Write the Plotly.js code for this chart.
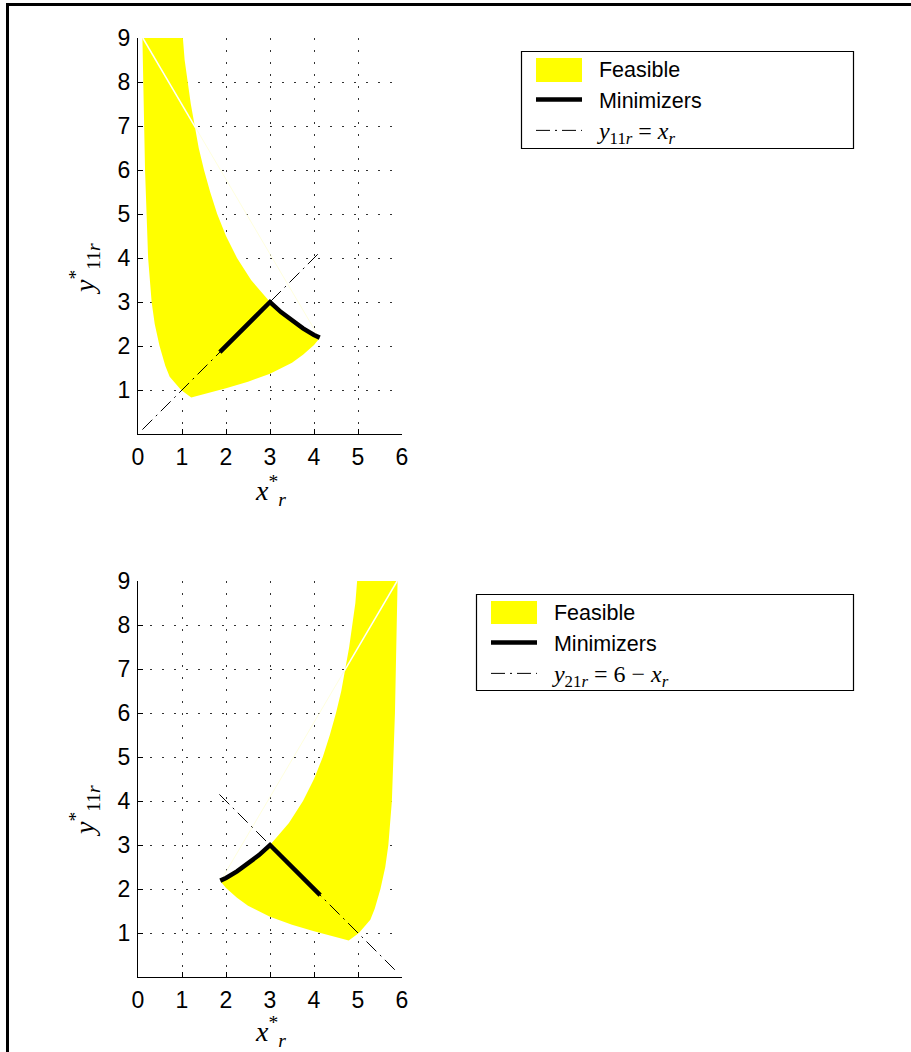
<!DOCTYPE html>
<html><head><meta charset="utf-8">
<script src="https://cdn.plot.ly/plotly-3.0.1.min.js"></script>
<style>html,body{margin:0;padding:0;background:#fff}#chart{width:911px;height:1052px}</style>
</head><body><div id="chart"></div>
<script>
// ---------- tick labels ----------
const xTickVals = [0, 1, 2, 3, 4, 5, 6];
const yTickVals = [1, 2, 3, 4, 5, 6, 7, 8, 9];

// ---------- top panel (y11r = xr) ----------
const feasTopX = [0.10, 1.02, 1.06, 1.13, 1.20, 1.29, 1.38, 1.50, 1.64, 1.80, 2.00, 2.25, 2.57, 3.00, 3.25, 3.50, 3.75, 4.00, 4.13,
                  4.00, 3.75, 3.50, 3.00, 2.50, 2.00, 1.60, 1.21,
                  0.98, 0.85, 0.72, 0.62, 0.49, 0.38, 0.31, 0.23, 0.19, 0.16, 0.14, 0.12, 0.10];
const feasTopY = [9.00, 9.00, 8.50, 8.00, 7.50, 7.00, 6.50, 6.00, 5.50, 5.00, 4.50, 4.00, 3.50, 3.00, 2.77, 2.57, 2.40, 2.25, 2.18,
                  2.02, 1.80, 1.62, 1.37, 1.19, 1.04, 0.93, 0.83,
                  1.00, 1.15, 1.30, 1.55, 2.00, 2.50, 3.00, 4.00, 5.00, 6.00, 7.00, 8.00, 9.00];
const minTopX = [1.86, 3.00, 3.25, 3.50, 3.75, 4.00, 4.13];
const minTopY = [1.86, 3.00, 2.77, 2.57, 2.40, 2.25, 2.19];
const diagTopX = [0.10, 4.15];
const diagTopY = [0.10, 4.15];
const chordInTopX = [0.11, 1.31];
const chordInTopY = [9.00, 6.96];
const chordOutTopX = [1.31, 4.13];
const chordOutTopY = [6.96, 2.17];

// ---------- bottom panel (y21r = 6 - xr) ----------
const feasBotX = [5.90, 4.98, 4.94, 4.87, 4.80, 4.71, 4.62, 4.50, 4.36, 4.20, 4.00, 3.75, 3.43, 3.00, 2.75, 2.50, 2.25, 2.00, 1.87,
                  2.00, 2.25, 2.50, 3.00, 3.50, 4.00, 4.40, 4.79,
                  5.02, 5.15, 5.28, 5.38, 5.51, 5.62, 5.69, 5.77, 5.81, 5.84, 5.86, 5.88, 5.90];
const feasBotY = [9.00, 9.00, 8.50, 8.00, 7.50, 7.00, 6.50, 6.00, 5.50, 5.00, 4.50, 4.00, 3.50, 3.00, 2.77, 2.57, 2.40, 2.25, 2.18,
                  2.02, 1.80, 1.62, 1.37, 1.19, 1.04, 0.93, 0.83,
                  1.00, 1.15, 1.30, 1.55, 2.00, 2.50, 3.00, 4.00, 5.00, 6.00, 7.00, 8.00, 9.00];
const minBotX = [1.87, 2.00, 2.25, 2.50, 2.75, 3.00, 4.14];
const minBotY = [2.19, 2.25, 2.40, 2.57, 2.77, 3.00, 1.86];
const diagBotX = [1.85, 5.90];
const diagBotY = [4.15, 0.10];
const chordInBotX = [5.89, 4.69];
const chordInBotY = [9.00, 6.96];
const chordOutBotX = [4.69, 1.87];
const chordOutBotY = [6.96, 2.17];

const YELLOW = '#ffff00';
const DASHDOT = '14px,5px,2px,5px';
const serif = 'Liberation Serif, DejaVu Serif, serif';
const sans = 'Liberation Sans, Arial, sans-serif';

function panel(xa, ya, leg, fx, fy, cix, ciy, cox, coy, dx, dy, mx, my, diagName) {
  return [
    {x: fx, y: fy, xaxis: xa, yaxis: ya, mode: 'lines', fill: 'toself', fillcolor: YELLOW,
     line: {width: 0, color: YELLOW}, showlegend: false, hoverinfo: 'skip'},
    {x: cix, y: ciy, xaxis: xa, yaxis: ya, mode: 'lines', line: {color: '#ffffff', width: 1.5},
     showlegend: false, hoverinfo: 'skip'},
    {x: cox, y: coy, xaxis: xa, yaxis: ya, mode: 'lines', line: {color: 'rgb(255,255,222)', width: 1},
     showlegend: false, hoverinfo: 'skip'},
    {x: [null], y: [null], xaxis: xa, yaxis: ya, mode: 'lines', name: '\u00a0\u00a0Feasible', legend: leg, legendrank: 1,
     line: {color: YELLOW, width: 10}},
    {x: dx, y: dy, xaxis: xa, yaxis: ya, mode: 'lines', name: diagName, legend: leg, legendrank: 3,
     line: {color: '#000', width: 1, dash: DASHDOT}},
    {x: mx, y: my, xaxis: xa, yaxis: ya, mode: 'lines', name: '\u00a0\u00a0Minimizers', legend: leg, legendrank: 2,
     line: {color: '#000', width: 4.5}}
  ];
}

const diag1 = '\u00a0\u00a0<span style="font-family:Liberation Serif;font-size:24px"><i>y</i><sub>11<i>r</i></sub> = <i>x</i><sub><i>r</i></sub></span>';
const diag2 = '\u00a0\u00a0<span style="font-family:Liberation Serif;font-size:24px"><i>y</i><sub>21<i>r</i></sub> = 6 − <i>x</i><sub><i>r</i></sub></span>';

const data = [].concat(
  panel('x', 'y', 'legend', feasTopX, feasTopY, chordInTopX, chordInTopY, chordOutTopX, chordOutTopY, diagTopX, diagTopY, minTopX, minTopY, diag1),
  panel('x2', 'y2', 'legend2', feasBotX, feasBotY, chordInBotX, chordInBotY, chordOutBotX, chordOutBotY, diagBotX, diagBotY, minBotX, minBotY, diag2)
);

const W = 911, H = 1052;
function xAxis(anchor) {
  return {domain: [138 / W, 402 / W], anchor: anchor, range: [0, 6], tickvals: xTickVals, ticktext: xTickVals.map(String),
    showline: true, linecolor: '#000', linewidth: 1, ticks: 'inside', ticklen: 5, tickcolor: '#000', tickwidth: 1,
    showgrid: true, gridcolor: '#333', gridwidth: 1, griddash: '1.5px,10.5px', zeroline: false, ticklabelstandoff: 2,
    tickfont: {family: sans, size: 23, color: '#000'}, fixedrange: true};
}
function yAxis(anchor, top, bottom) {
  return {domain: [1 - bottom / H, 1 - top / H], anchor: anchor, range: [0, 9], tickvals: yTickVals, ticktext: yTickVals.map(String),
    showline: true, linecolor: '#000', linewidth: 1, ticks: 'inside', ticklen: 5, tickcolor: '#000', tickwidth: 1,
    showgrid: true, gridcolor: '#333', gridwidth: 1, griddash: '1.5px,10.5px', zeroline: false, ticklabelstandoff: 2,
    tickfont: {family: sans, size: 23, color: '#000'}, fixedrange: true};
}
function legendBox(left, top) {
  return {x: left / W, y: 1 - top / H, xanchor: 'left', yanchor: 'top', bgcolor: 'rgba(0,0,0,0)', borderwidth: 0,
    font: {family: sans, size: 21.5, color: '#000'}, itemwidth: 46, traceorder: 'normal', itemclick: false, itemdoubleclick: false};
}
const xTitle = '<i>x</i><sup>*</sup><sub><i>r</i></sub>';
const yTitle = '<i>y</i><sup>*</sup><sub>11<i>r</i></sub>';
function ann(text, px, py, angle) {
  return {text: text, xref: 'paper', yref: 'paper', x: px / W, y: 1 - py / H, xanchor: 'center', yanchor: 'middle',
    showarrow: false, textangle: angle, borderpad: 0, font: {family: serif, size: 28, color: '#000'}};
}
function pxRect(x0, y0, x1, y1, fill, lineW) {
  return {type: 'rect', xref: 'paper', yref: 'paper', layer: 'above', x0: x0 / W, x1: x1 / W, y0: 1 - y1 / H, y1: 1 - y0 / H,
    fillcolor: fill, line: {color: '#000', width: lineW}};
}

const layout = {
  width: W, height: H, margin: {l: 0, r: 0, t: 0, b: 0}, paper_bgcolor: '#fff', plot_bgcolor: '#fff',
  xaxis: xAxis('y'), yaxis: yAxis('x', 38, 434),
  xaxis2: xAxis('y2'), yaxis2: yAxis('x2', 581, 977),
  legend: legendBox(531, 48), legend2: legendBox(486, 591),
  annotations: [ann(xTitle, 270, 490, 0), ann(yTitle, 84, 269, -90), ann(xTitle, 270, 1031.5, 0), ann(yTitle, 84, 811, -90)],
  shapes: [
    {type: 'line', xref: 'paper', yref: 'paper', x0: 7.5 / W, x1: 7.5 / W, y0: 0, y1: 1 - 4.5 / H, line: {color: '#000', width: 3}},
    {type: 'line', xref: 'paper', yref: 'paper', x0: 6 / W, x1: 1, y0: 1 - 4.5 / H, y1: 1 - 4.5 / H, line: {color: '#000', width: 3}},
    pxRect(521.5, 51.5, 853.5, 148.5, '#ffffff', 1.2),
    pxRect(536, 58, 582, 82, YELLOW, 0),
    pxRect(476.5, 594.5, 853.5, 690.5, '#ffffff', 1.2),
    pxRect(491, 601, 537, 624, YELLOW, 0)
  ],
  showlegend: true
};

Plotly.newPlot('chart', data, layout, {staticPlot: true, displayModeBar: false});
</script></body></html>
